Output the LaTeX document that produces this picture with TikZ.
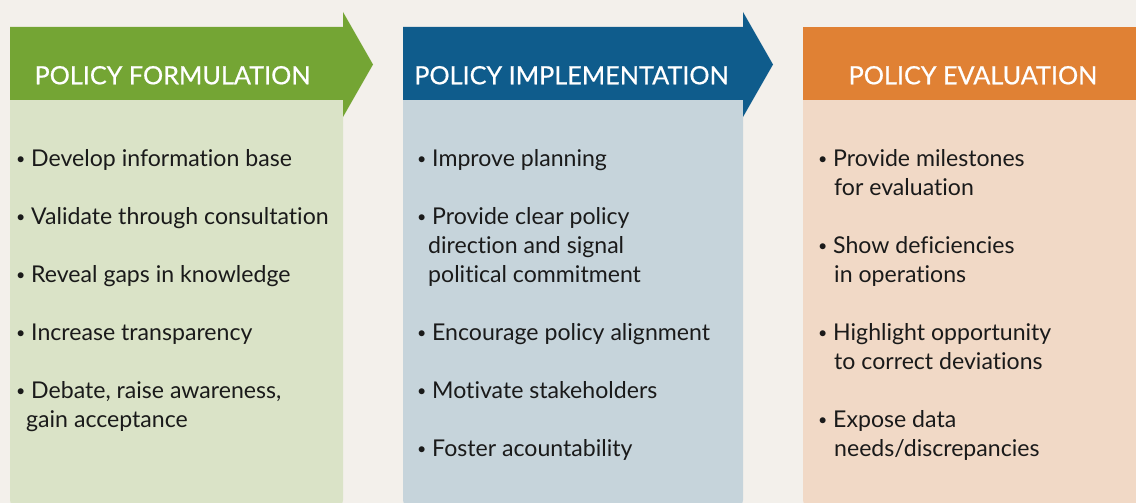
\documentclass[tikz,border=0pt]{standalone}
\usepackage{fontspec}
\setmainfont[Ligatures={NoCommon,NoContextual}]{Lato}
\newfontfamily\headfont[UprightFeatures={FakeBold=0.6}]{Lato}
\definecolor{bg}{HTML}{F3F0EB}
\definecolor{grn}{HTML}{74A534}
\definecolor{lgrn}{HTML}{DAE3C7}
\definecolor{blu}{HTML}{0F5C8C}
\definecolor{lblu}{HTML}{C6D4DB}
\definecolor{org}{HTML}{E08134}
\definecolor{lorg}{HTML}{F1D9C6}
\definecolor{txt}{HTML}{1A1A1A}
\newcommand{\bul}{\makebox[15pt][l]{\fontsize{16}{16}\selectfont\raisebox{1.5pt}{•}}}
\tikzset{
  head/.style={anchor=base, text=white, font=\headfont\fontsize{25.2}{30}\selectfont, inner sep=0pt},
  item/.style={anchor=base west, text=txt, font=\fontsize{23.1}{29}\selectfont, inner sep=0pt},
}
\begin{document}
\begin{tikzpicture}[x=1pt,y=-1pt]
\useasboundingbox (0,0) rectangle (1136,503);
\fill[bg] (0,0) rectangle (1136,503);
% bodies
\fill[lgrn, rounded corners=6pt] (10,90) rectangle (343,506);
\fill[lblu, rounded corners=6pt] (403,90) rectangle (743,506);
\fill[lorg, rounded corners=6pt] (803,90) rectangle (1142,506);
% headers
\fill[grn] (10,27) -- (343,27) -- (343,12) -- (373,64.5) -- (343,117) -- (343,100) -- (10,100) -- cycle;
\fill[blu] (403,27) -- (743,27) -- (743,12) -- (773,64.5) -- (743,117) -- (743,100) -- (403,100) -- cycle;
\fill[org] (803,27) rectangle (1136,100);
\node[head] (h1) at (172.5,84.3) {POLICY FORMULATION};
\node[head] (h2) at (571.5,84.3) {POLICY IMPLEMENTATION};
\node[head] (h3) at (973,84.3) {POLICY EVALUATION};
% column 1
\node[item] (a1) at (16,166) {\bul Develop information base};
\node[item] (a2) at (16,224) {\bul Validate through consultation};
\node[item] (a3) at (16,282) {\bul Reveal gaps in knowledge};
\node[item] (a4) at (16,340) {\bul Increase transparency};
\node[item] (a5) at (16,398) {\bul Debate, raise awareness,};
\node[item] (a5b) at (26,427) {gain acceptance};
% column 2
\node[item] (b1) at (417,166) {\bul Improve planning};
\node[item] (b2) at (417,224) {\bul Provide clear policy};
\node[item] (b2b) at (428,253) {direction and signal};
\node[item] (b2c) at (428,282) {political commitment};
\node[item] (b3) at (417,340) {\bul Encourage policy alignment};
\node[item] (b4) at (417,398) {\bul Motivate stakeholders};
\node[item] (b5) at (417,456) {\bul Foster acountability};
% column 3
\node[item] (c1) at (818,166) {\bul Provide milestones};
\node[item] (c1b) at (834,195) {for evaluation};
\node[item] (c2) at (818,253) {\bul Show deficiencies};
\node[item] (c2b) at (834,282) {in operations};
\node[item] (c3) at (818,340) {\bul Highlight opportunity};
\node[item] (c3b) at (834,369) {to correct deviations};
\node[item] (c4) at (818,427) {\bul Expose data};
\node[item] (c4b) at (834,456) {needs/discrepancies};
\end{tikzpicture}
\end{document}
